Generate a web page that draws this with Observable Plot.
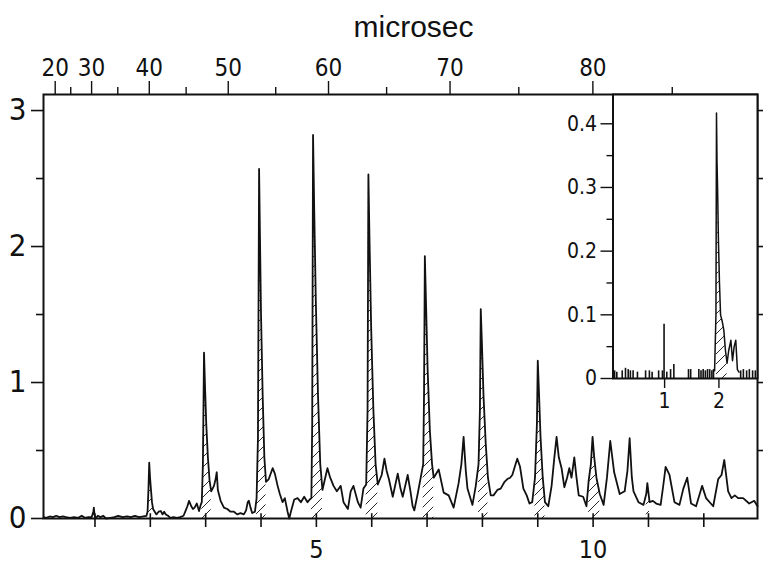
<!DOCTYPE html>
<html>
<head>
<meta charset="utf-8">
<script src="https://cdn.jsdelivr.net/npm/d3@7"></script>
<script src="https://cdn.jsdelivr.net/npm/@observablehq/plot@0.6"></script>
<style>
  html, body { margin: 0; padding: 0; background: white; }
  #wrap { position: relative; width: 766px; height: 567px; }
  #inset { position: absolute; left: 560px; top: 90px; }
</style>
</head>
<body>
<div id="wrap"><div id="main"></div><div id="inset"></div></div>
<script>
const FONT = '"Liberation Sans Narrow", "DejaVu Sans Condensed", "Liberation Sans", sans-serif';
const INK = "#111";

// main spectrum: [mass-scale x, intensity]
const spectrum = [
  [0.07,0.01],[0.12,0.005],[0.18,0.015],[0.24,0.01],[0.30,0.02],[0.36,0.01],[0.42,0.015],[0.48,0.01],[0.55,0.005],[0.62,0.01],[0.70,0.005],[0.76,0.02],[0.82,0.005],[0.88,0.01],[0.94,0.01],[0.97,0.05],[0.98,0.08],[0.99,0.03],[1.01,0.0],[1.05,0.02],[1.10,0.01],[1.15,0.02],[1.20,0.0],[1.28,0.005],[1.35,0.01],[1.42,0.02],[1.50,0.01],[1.58,0.015],[1.65,0.01],[1.72,0.02],[1.80,0.01],[1.87,0.015],[1.93,0.02],
  [1.95,0.05],[1.965,0.2],[1.98,0.41],[1.995,0.3],[2.01,0.22],[2.03,0.12],[2.05,0.07],[2.08,0.05],[2.11,0.03],[2.15,0.05],[2.19,0.055],[2.22,0.03],[2.25,0.05],[2.28,0.03],[2.32,0.02],[2.36,0.005],[2.42,0.01],[2.48,0.005],[2.54,0.01],[2.60,0.02],[2.64,0.06],[2.67,0.09],[2.70,0.13],[2.72,0.11],[2.74,0.09],[2.77,0.07],[2.80,0.08],[2.84,0.11],[2.88,0.055],[2.91,0.1],[2.93,0.12],
  [2.95,0.4],[2.97,1.22],[2.99,0.95],[3.01,0.7],[3.04,0.45],[3.07,0.28],[3.10,0.2],[3.15,0.24],[3.18,0.29],[3.20,0.34],[3.22,0.21],[3.27,0.13],[3.33,0.08],[3.39,0.07],[3.45,0.05],[3.51,0.05],[3.57,0.03],[3.63,0.04],[3.69,0.03],[3.73,0.06],[3.76,0.12],[3.78,0.13],[3.81,0.08],[3.84,0.04],[3.89,0.05],[3.92,0.15],
  [3.945,0.6],[3.965,2.57],[3.98,2.1],[4.0,1.5],[4.03,0.9],[4.06,0.45],[4.09,0.27],[4.14,0.29],[4.21,0.37],[4.25,0.33],[4.30,0.24],[4.34,0.18],[4.39,0.12],[4.43,0.15],[4.48,0.05],[4.51,0.0],[4.54,0.05],[4.60,0.14],[4.66,0.15],[4.72,0.12],[4.78,0.16],[4.84,0.12],[4.88,0.14],[4.91,0.15],
  [4.925,0.7],[4.94,2.82],[4.96,2.3],[4.99,1.6],[5.03,0.9],[5.07,0.4],[5.11,0.21],[5.16,0.3],[5.20,0.37],[5.25,0.3],[5.31,0.24],[5.37,0.2],[5.44,0.24],[5.49,0.12],[5.57,0.07],[5.62,0.2],[5.67,0.24],[5.75,0.12],[5.80,0.08],[5.85,0.22],[5.90,0.25],
  [5.925,0.8],[5.94,2.53],[5.96,2.05],[5.99,1.4],[6.03,0.8],[6.07,0.4],[6.11,0.25],[6.18,0.32],[6.23,0.44],[6.27,0.35],[6.31,0.29],[6.38,0.16],[6.47,0.33],[6.52,0.22],[6.56,0.16],[6.65,0.32],[6.70,0.2],[6.74,0.09],[6.77,0.06],[6.83,0.18],[6.88,0.29],[6.93,0.4],
  [6.945,0.9],[6.96,1.93],[6.98,1.6],[7.01,1.1],[7.05,0.65],[7.09,0.4],[7.12,0.3],[7.21,0.36],[7.30,0.19],[7.39,0.17],[7.48,0.08],[7.57,0.26],[7.62,0.4],[7.66,0.6],[7.70,0.35],[7.73,0.22],[7.82,0.1],[7.88,0.24],[7.93,0.4],
  [7.955,0.8],[7.97,1.54],[7.99,1.3],[8.02,0.9],[8.06,0.55],[8.10,0.3],[8.15,0.17],[8.20,0.17],[8.27,0.21],[8.33,0.22],[8.40,0.27],[8.45,0.29],[8.50,0.3],[8.54,0.32],[8.60,0.4],[8.63,0.44],[8.68,0.38],[8.74,0.22],[8.80,0.17],[8.85,0.11],
  [8.90,0.12],[8.95,0.3],[8.985,0.7],[9.0,1.16],[9.02,0.95],[9.05,0.6],[9.09,0.3],[9.13,0.12],[9.19,0.09],[9.25,0.24],[9.30,0.45],[9.34,0.6],[9.38,0.45],[9.43,0.37],[9.48,0.23],[9.53,0.3],[9.57,0.37],[9.61,0.3],[9.66,0.45],[9.70,0.3],[9.74,0.17],[9.82,0.16],[9.88,0.09],[9.92,0.28],[9.96,0.4],
  [9.99,0.6],[10.02,0.45],[10.06,0.3],[10.12,0.18],[10.19,0.1],[10.25,0.3],[10.31,0.57],[10.38,0.34],[10.48,0.18],[10.57,0.2],[10.62,0.35],[10.66,0.59],[10.70,0.3],[10.73,0.2],[10.82,0.12],[10.91,0.1],[10.96,0.18],[10.98,0.26],[11.02,0.12],[11.08,0.13],[11.14,0.11],[11.22,0.1],[11.27,0.25],[11.31,0.38],[11.38,0.32],[11.47,0.12],[11.56,0.1],[11.63,0.22],[11.70,0.3],[11.77,0.11],[11.86,0.09],[11.97,0.24],[12.04,0.15],[12.17,0.09],[12.26,0.29],[12.32,0.32],[12.37,0.43],[12.44,0.2],[12.50,0.15],[12.56,0.17],[12.62,0.15],[12.71,0.15],[12.82,0.11],[12.91,0.13],[12.97,0.09]
];
// hatched peak ranges (x from, x to)
const hatchRanges = [[1.94,2.07],[2.93,3.10],[3.92,4.09],[4.91,5.11],[5.90,6.11],[6.93,7.12],[7.93,8.12],[8.93,9.13],[9.92,10.15],[10.95,11.02]];

// axis ticks
const xTicks = [1,2,3,4,5,6,7,8,9,10,11,12];
const xLabelled = [5,10];
const yMajor = [0,1,2,3];
const yMinor = [0.5,1.5,2.5];
const yRight = [0.5,1,1.5,2,2.5,3];
const microsecMajor = [20,30,40,50,60,70,80];
const microsecMinor = [25,35,45,55,65,75,85];
// time-of-flight calibration: x = (k (t - t0))^2
const tofK = 0.04385, tofT0 = 7.9;
const toX = t => (tofK * (t - tofT0)) ** 2;
const toT = x => Math.round(tofT0 + Math.sqrt(x) / tofK);

// inset data
const insetSticks = [[0.08,0.012],[0.12,0.01],[0.22,0.012],[0.28,0.016],[0.33,0.014],[0.37,0.012],[0.42,0.012],[0.50,0.01],[0.65,0.012],[0.72,0.012],[0.77,0.01],[0.89,0.012],[0.96,0.012],[0.99,0.085],[1.04,0.01],[1.11,0.014],[1.17,0.022],[1.44,0.014],[1.48,0.014],[1.63,0.014],[1.67,0.012],[1.71,0.014],[1.75,0.012],[1.79,0.014],[1.83,0.014],[1.87,0.012],[1.90,0.014],[2.40,0.012],[2.45,0.014],[2.51,0.012],[2.56,0.014],[2.62,0.012],[2.67,0.012]];
const insetPeak = [[1.92,0.012],[1.945,0.1],[1.955,0.417],[1.965,0.34],[1.975,0.3],[1.99,0.22],[2.01,0.15],[2.03,0.1],[2.06,0.09],[2.09,0.076],[2.12,0.044],[2.15,0.024],[2.18,0.044],[2.22,0.06],[2.25,0.028],[2.28,0.05],[2.31,0.06],[2.34,0.014],[2.37,0.01]];
const insetHatch = [1.95, 2.16];
const insetYMajor = [0,0.1,0.2,0.3,0.4];
const insetYMinor = [0.05,0.15,0.25,0.35];
const insetXTicks = [1,2];

function addHatch(svg, id) {
  const defs = d3.select(svg).insert("defs", ":first-child");
  const p = defs.append("pattern").attr("id", id).attr("patternUnits", "userSpaceOnUse")
    .attr("width", 10).attr("height", 10);
  p.append("path").attr("d", "M-1,1 l2,-2 M0,10 l10,-10 M9,11 l2,-2")
    .attr("stroke", INK).attr("stroke-width", 0.9).attr("fill", "none");
}

const inRange = (r) => spectrum.filter(d => d[0] >= r[0] - 1e-9 && d[0] <= r[1] + 1e-9);

const main = Plot.plot({
  width: 766, height: 567,
  marginLeft: 43, marginRight: 9, marginTop: 94, marginBottom: 49,
  x: {domain: [0.07, 12.97]},
  y: {domain: [0, 3.118]},
  style: {fontFamily: FONT, color: INK, background: "white", overflow: "visible"},
  marks: [
    ...hatchRanges.map(r => Plot.areaY(inRange(r), {x: d => d[0], y: d => d[1], fill: "url(#hatchMain)"})),
    Plot.line(spectrum, {x: d => d[0], y: d => d[1], stroke: INK, strokeWidth: 1.8, strokeLinejoin: "round"}),
    Plot.frame({stroke: INK, strokeWidth: 2}),
    Plot.axisY(yMajor, {anchor: "left", tickSize: 12, tickPadding: 5, fontSize: 31, strokeWidth: 1.6,
      tickFormat: d => String(d), label: null}),
    Plot.axisY(yMinor, {anchor: "left", tickSize: 7, tickFormat: () => "", strokeWidth: 1.6, label: null}),
    Plot.axisY(yRight, {anchor: "right", tickSize: 5, tickFormat: () => "", strokeWidth: 1.6, label: null}),
    Plot.axisX(xTicks, {anchor: "bottom", tickSize: 9, tickPadding: 13, fontSize: 25, strokeWidth: 1.6,
      tickFormat: d => xLabelled.includes(d) ? String(d) : "", label: null}),
    Plot.ruleX(xTicks, {y1: 0, y2: 0.035, stroke: INK, strokeWidth: 1.6}),
    Plot.axisX(microsecMajor.map(toX), {anchor: "top", tickSize: 14, tickPadding: 5, fontSize: 24, strokeWidth: 1.4,
      tickFormat: d => String(toT(d)), label: null}),
    Plot.axisX(microsecMinor.map(toX), {anchor: "top", tickSize: 8, tickFormat: () => "", strokeWidth: 1.4, label: null}),
    Plot.text(["microsec"], {frameAnchor: "top", dx: 13, dy: -67, lineAnchor: "middle", fontSize: 30,
      fontFamily: '"Liberation Sans", "DejaVu Sans", sans-serif', fill: INK})
  ]
});
addHatch(main, "hatchMain");
document.getElementById("main").appendChild(main);

const inset = Plot.plot({
  width: 206, height: 330,
  marginLeft: 52.5, marginRight: 9, marginTop: 4, marginBottom: 42,
  x: {domain: [0.05, 2.71]},
  y: {domain: [0, 0.446]},
  style: {fontFamily: FONT, color: INK, background: "transparent", overflow: "visible"},
  marks: [
    Plot.frame({fill: "white", stroke: "none"}),
    Plot.areaY(insetPeak.filter(d => d[0] >= insetHatch[0] && d[0] <= insetHatch[1]), {x: d => d[0], y: d => d[1], fill: "url(#hatchInset)"}),
    Plot.ruleX(insetSticks, {x: d => d[0], y1: 0, y2: d => d[1], stroke: INK, strokeWidth: 1.6}),
    Plot.line(insetPeak, {x: d => d[0], y: d => d[1], stroke: INK, strokeWidth: 1.5}),
    Plot.frame({stroke: INK, strokeWidth: 2}),
    Plot.axisY(insetYMajor, {anchor: "left", tickSize: 12, tickPadding: 4, fontSize: 21, strokeWidth: 1.4,
      tickFormat: d => d === 0 ? "0" : d.toFixed(1), label: null}),
    Plot.axisY(insetYMinor, {anchor: "left", tickSize: 6, tickFormat: () => "", strokeWidth: 1.4, label: null}),
    Plot.axisX(insetXTicks, {anchor: "bottom", tickSize: 10, tickPadding: 5, fontSize: 21, strokeWidth: 1.4,
      tickFormat: d => String(d), label: null})
  ]
});
addHatch(inset, "hatchInset");
document.getElementById("inset").appendChild(inset);
</script>
</body>
</html>
